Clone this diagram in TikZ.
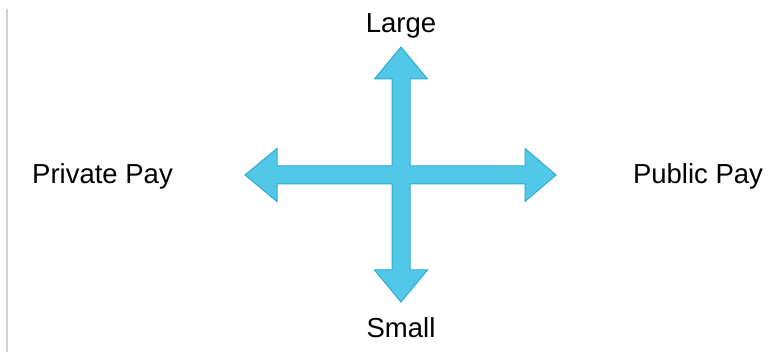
\documentclass[tikz,border=0pt]{standalone}
\usepackage{fontspec}
\setmainfont{Liberation Sans}
\definecolor{crossblue}{HTML}{52C8E8}
\definecolor{crossedge}{HTML}{2FAAD2}
\definecolor{edgegray}{HTML}{CFCFCF}

\begin{document}
\begin{tikzpicture}[x=1pt,y=-1pt,font=\fontsize{27.5}{32}\selectfont]
\useasboundingbox (0,0) rectangle (774,352);
\draw[edgegray,line width=2pt] (7,9) -- (7,352);
% the cross of four block arrows
\coordinate (mid) at (401,175);
\filldraw[fill=crossblue,draw=crossedge,line width=1pt,line join=miter]
  (401,47) -- (427.5,79) -- (410,79) -- (410,166) -- (525,166) -- (525,148.5)
  -- (556,175) -- (525,201.5) -- (525,184) -- (410,184) -- (410,270)
  -- (427.5,270) -- (401,302) -- (374.5,270) -- (392,270) -- (392,184)
  -- (277,184) -- (277,201.5) -- (245,175) -- (277,148.5) -- (277,166)
  -- (392,166) -- (392,79) -- (374.5,79) -- cycle;
\node[anchor=base] (large) at (401,33) {Large};
\node[anchor=base] (small) at (401,338) {Small};
\node[anchor=base] (private) at (102.5,184) {Private Pay};
\node[anchor=base] (public) at (698,184) {Public Pay};
\end{tikzpicture}
\end{document}
